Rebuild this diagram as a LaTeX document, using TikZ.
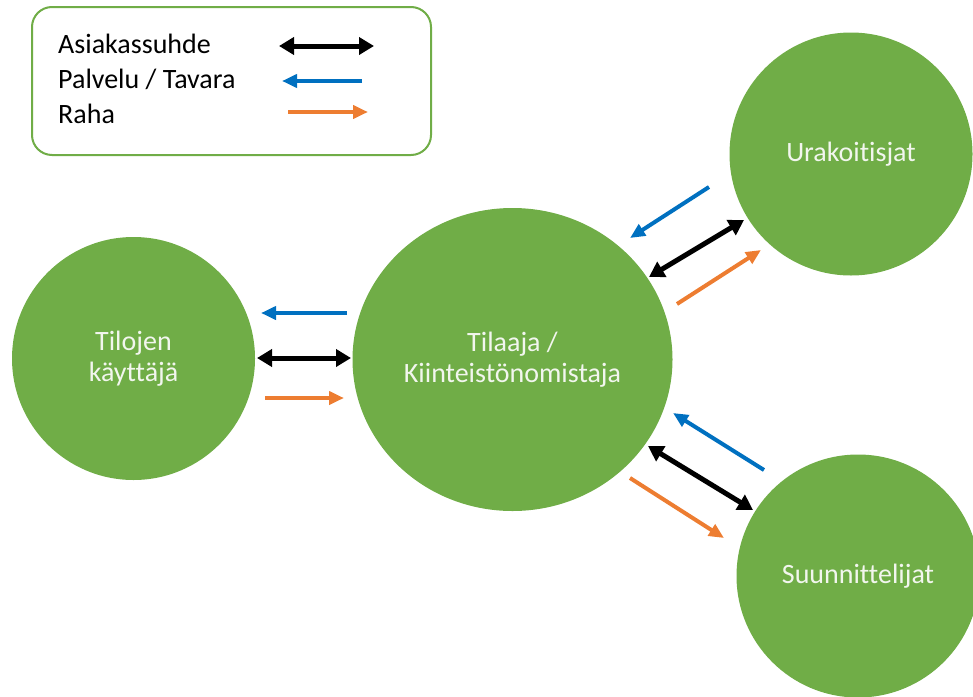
\documentclass[tikz,border=0pt]{standalone}
\usepackage{fontspec}
\setmainfont{Carlito}[Ligatures=NoCommon]
\usetikzlibrary{arrows.meta,shapes.geometric}
\definecolor{leaf}{HTML}{70AD47}
\definecolor{flowblue}{HTML}{0070C0}
\definecolor{floworange}{HTML}{ED7D31}
\definecolor{paletext}{HTML}{F2F6EE}
\begin{document}
\begin{tikzpicture}[x=1pt,y=-1pt,
  font=\fontsize{28}{31}\selectfont,
  party/.style={circle, fill=leaf, text=paletext, align=center, inner sep=0pt},
  owner/.style={ellipse, fill=leaf, text=paletext, align=center, inner sep=0pt},
  keytext/.style={anchor=base west, inner sep=0pt, text=black},
  service/.style={line width=4pt, draw=flowblue, -{Triangle[length=15pt,width=13pt]}},
  money/.style={line width=4pt, draw=floworange, -{Triangle[length=15pt,width=13pt]}},
  relation/.style={line width=5pt, draw=black,
    {Triangle[length=15pt,width=17pt]}-{Triangle[length=15pt,width=17pt]}},
]
\useasboundingbox (0,0) rectangle (973,696);
\clip (0,0) rectangle (973,696);

% legend box
\node[draw=leaf, line width=2pt, rounded corners=20pt, fill=white,
      minimum width=399pt, minimum height=148pt, inner sep=0pt] (legend) at (231.5,81) {};
\node[keytext] (kRel) at (58,53) {Asiakassuhde};
\node[keytext] (kSrv) at (58,88) {Palvelu / Tavara};
\node[keytext] (kMon) at (58,123) {Raha};
\coordinate (lgRelA) at (279,46);
\coordinate (lgRelB) at (374,46);
\coordinate (lgSrvA) at (362,81);
\coordinate (lgSrvB) at (282,81);
\coordinate (lgMonA) at (288,112);
\coordinate (lgMonB) at (368,112);
\draw[relation] (lgRelA) -- (lgRelB);
\draw[service] (lgSrvA) -- (lgSrvB);
\draw[money] (lgMonA) -- (lgMonB);

% parties
\node[party, minimum size=243pt] (user) at (133.5,358.5) {Tilojen\\käyttäjä};
\node[owner, minimum width=320pt, minimum height=303pt] (owner) at (512.5,359.5)
  {Tilaaja /\\Kiinteistönomistaja};
\node[party, minimum size=243pt] (contr) at (851,154) {Urakoitisjat};
\node[party, minimum size=243pt] (design) at (858,576) {Suunnittelijat};

% flows between user and owner
\coordinate (uSrvA) at (347,313);
\coordinate (uSrvB) at (261,313);
\coordinate (uRelA) at (257,358);
\coordinate (uRelB) at (351,358);
\coordinate (uMonA) at (265,398);
\coordinate (uMonB) at (344,398);
\draw[service] (uSrvA) -- (uSrvB);
\draw[relation] (uRelA) -- (uRelB);
\draw[money] (uMonA) -- (uMonB);

% flows between owner and contractors
\coordinate (cSrvA) at (709,187);
\coordinate (cSrvB) at (630,238);
\coordinate (cRelA) at (649,277);
\coordinate (cRelB) at (744,220);
\coordinate (cMonA) at (677,304);
\coordinate (cMonB) at (761,250);
\draw[service] (cSrvA) -- (cSrvB);
\draw[relation] (cRelA) -- (cRelB);
\draw[money] (cMonA) -- (cMonB);

% flows between owner and designers
\coordinate (dSrvA) at (764,470);
\coordinate (dSrvB) at (673,413);
\coordinate (dRelA) at (648,446);
\coordinate (dRelB) at (753,510);
\coordinate (dMonA) at (630,478);
\coordinate (dMonB) at (724,538);
\draw[service] (dSrvA) -- (dSrvB);
\draw[relation] (dRelA) -- (dRelB);
\draw[money] (dMonA) -- (dMonB);
\end{tikzpicture}
\end{document}
